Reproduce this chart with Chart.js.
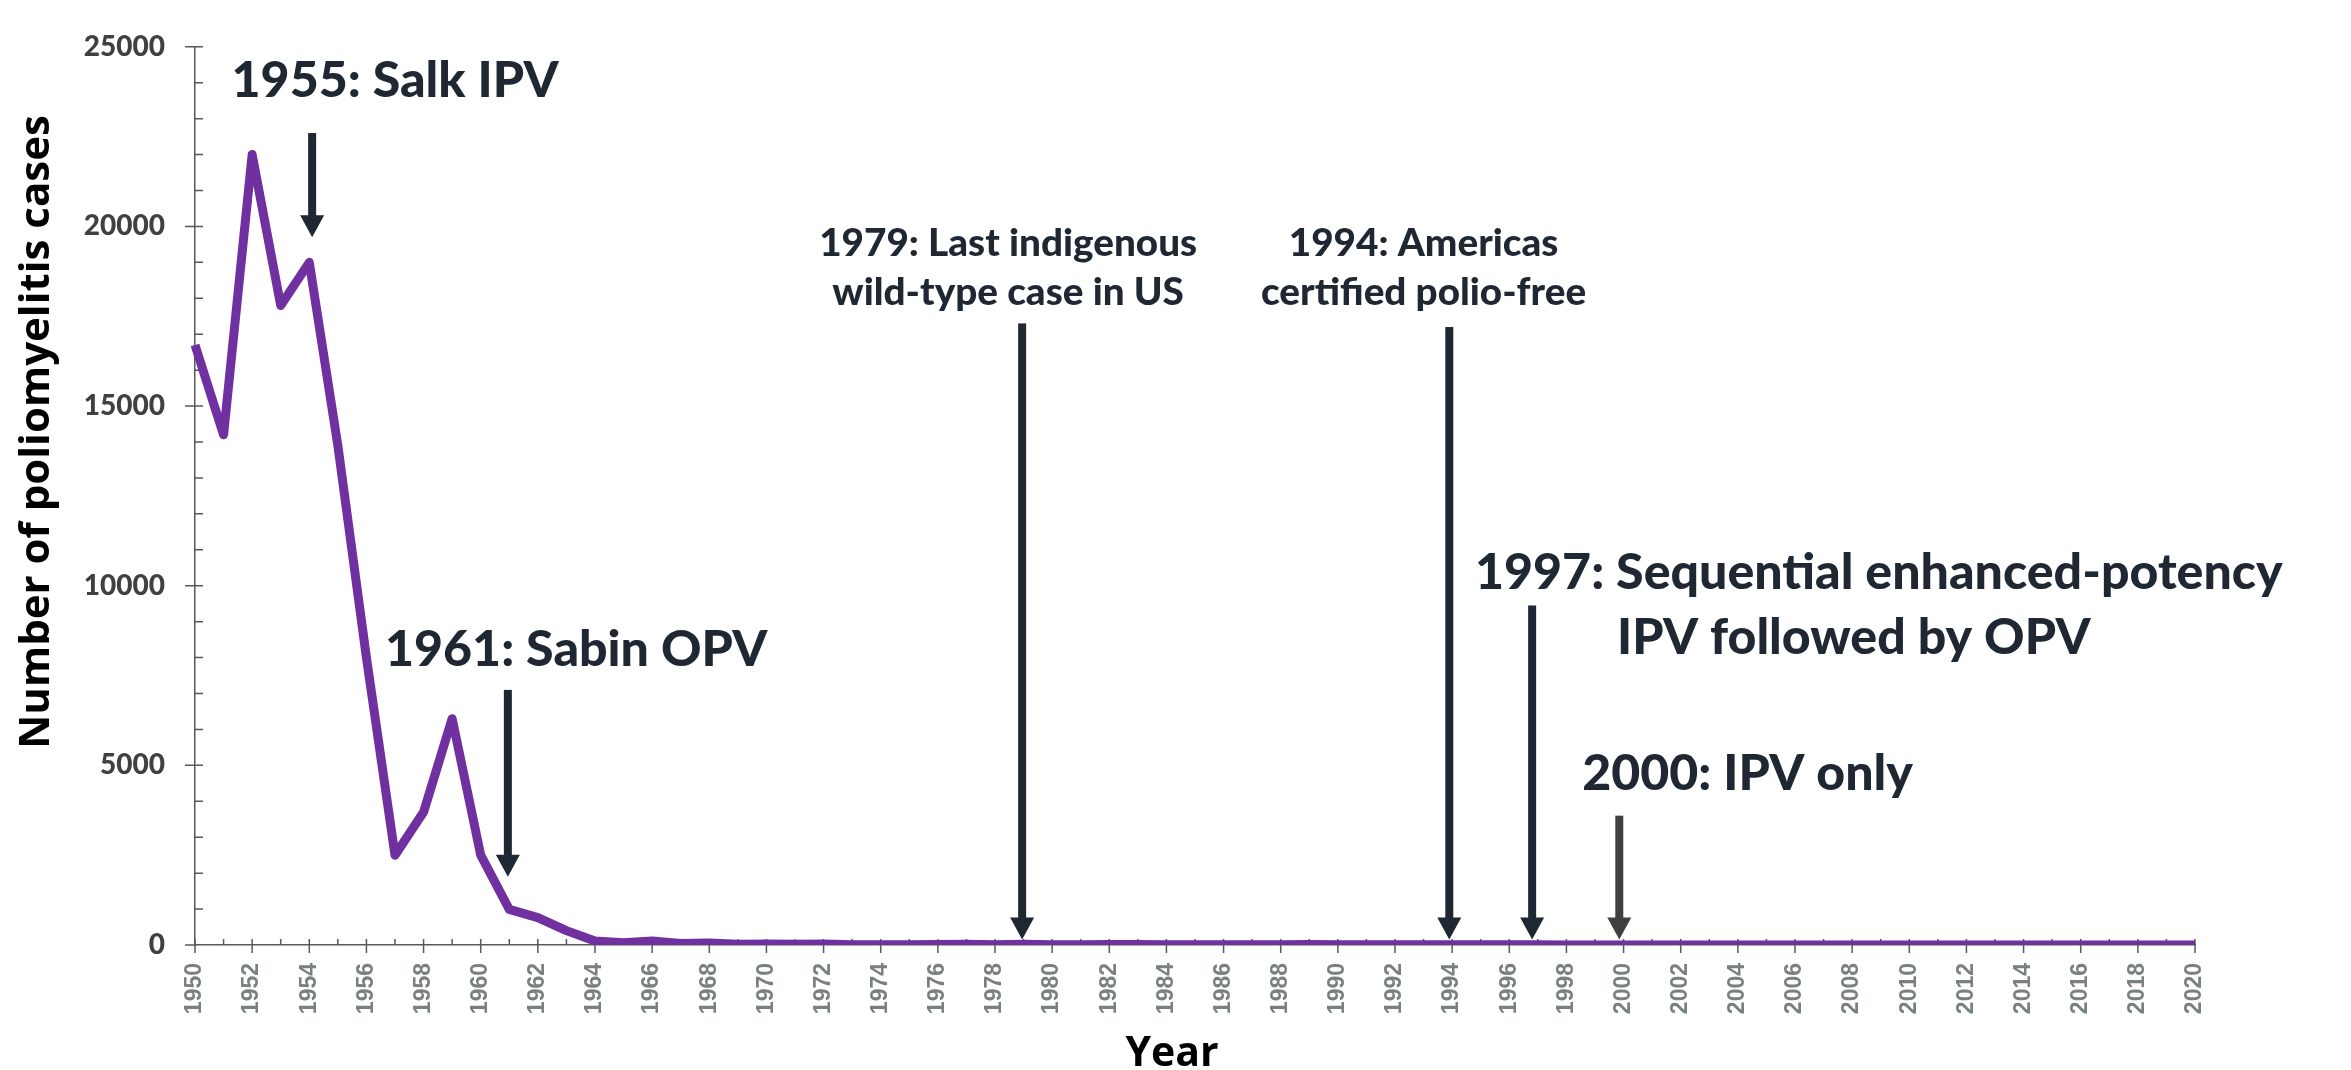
<!DOCTYPE html>
<html lang="en">
<head>
<meta charset="utf-8">
<title>Poliomyelitis cases in the US, 1950-2020</title>
<script src="https://cdn.jsdelivr.net/npm/chart.js@4.4.1/dist/chart.umd.min.js"></script>
<style>
	html, body { margin: 0; padding: 0; background: #fff; }
	#caixa { width: 2351px; height: 1070px; }
</style>
</head>
<body>
<div id="caixa"><canvas id="graficoPolio" width="2351" height="1070"></canvas></div>
<script>
// categorias (anos) e casos
var anos = [1950, 1951, 1952, 1953, 1954, 1955, 1956, 1957, 1958, 1959,
	1960, 1961, 1962, 1963, 1964, 1965, 1966, 1967, 1968, 1969,
	1970, 1971, 1972, 1973, 1974, 1975, 1976, 1977, 1978, 1979,
	1980, 1981, 1982, 1983, 1984, 1985, 1986, 1987, 1988, 1989,
	1990, 1991, 1992, 1993, 1994, 1995, 1996, 1997, 1998, 1999,
	2000, 2001, 2002, 2003, 2004, 2005, 2006, 2007, 2008, 2009,
	2010, 2011, 2012, 2013, 2014, 2015, 2016, 2017, 2018, 2019, 2020];

var casos = [16700, 14200, 22000, 17800, 19000, 13900, 8000, 2500, 3700, 6300,
	2500, 990, 760, 400, 110, 60, 110, 40, 55, 20,
	30, 20, 30, 8, 7, 8, 14, 18, 9, 22,
	9, 10, 12, 13, 9, 8, 10, 9, 9, 11,
	6, 10, 6, 4, 8, 7, 7, 6, 3, 2,
	1, 1, 1, 0, 0, 1, 0, 0, 0, 0,
	0, 0, 0, 0, 0, 0, 0, 0, 0, 0, 0];

var marcasY = [0, 5000, 10000, 15000, 20000, 25000];

var tituloX = 'Year';
var tituloY = 'Number of poliomyelitis cases';

// anotacoes: seta (ano, topo, ponta) e texto, em unidades dos eixos
var anotacoes = [
	{ seta: 1954.1, topo: 22600, ponta: 19700, corSeta: '#1f2832', tam: 'grande', alinhar: 'left',
		linhas: [{ texto: '1955: Salk IPV', ano: 1951.28, valor: 23595 }] },
	{ seta: 1960.95, topo: 7100, ponta: 1900, corSeta: '#1f2832', tam: 'grande', alinhar: 'left',
		linhas: [{ texto: '1961: Sabin OPV', ano: 1956.65, valor: 7772 }] },
	{ seta: 1978.95, topo: 17300, ponta: 150, corSeta: '#1f2832', tam: 'medio', alinhar: 'center',
		linhas: [{ texto: '1979: Last indigenous', ano: 1978.46, valor: 19177 },
			{ texto: 'wild-type case in US', ano: 1978.46, valor: 17800 }] },
	{ seta: 1993.9, topo: 17200, ponta: 150, corSeta: '#1f2832', tam: 'medio', alinhar: 'center',
		linhas: [{ texto: '1994: Americas', ano: 1993.0, valor: 19177 },
			{ texto: 'certified polio-free', ano: 1993.0, valor: 17800 }] },
	{ seta: 1996.8, topo: 9450, ponta: 150, corSeta: '#1f2832', tam: 'grande', alinhar: 'left',
		linhas: [{ texto: '1997: Sequential enhanced-potency', ano: 1994.8, valor: 9918 },
			{ texto: 'IPV followed by OPV', ano: 1999.77, valor: 8106 }] },
	{ seta: 1999.85, topo: 3600, ponta: 150, corSeta: '#404040', tam: 'grande', alinhar: 'left',
		linhas: [{ texto: '2000: IPV only', ano: 1998.55, valor: 4302 }] }
];

var Polio = Polio || {};

Polio.Grafico = (function(){

	var FONTES = {
		grande: { fonte: '900 49px Lato', ref: '1955: Salk IPV', largura: 327 },
		medio: { fonte: '900 38px Lato', ref: '1979: Last indigenous', largura: 378 }
	};

	function Grafico(){
		this.ctx = document.getElementById('graficoPolio').getContext('2d');
	}

	Grafico.prototype.iniciar = function(){
		new Chart(this.ctx, {
			type: 'line',
			data: {
				labels: anos,
				datasets: [{
					label: 'Poliomyelitis cases',
					data: casos,
					borderColor: '#7030a0',
					borderWidth: 9,
					borderJoinStyle: 'round',
					pointRadius: 0,
					tension: 0,
					fill: false
				}]
			},
			options: {
				responsive: false,
				animation: false,
				layout: { padding: { left: 0, top: 25, right: 156, bottom: 0 } },
				plugins: { legend: { display: false }, tooltip: { enabled: false } },
				scales: {
					x: {
						type: 'category',
						offset: false,
						grid: { display: false, drawTicks: false },
						border: { display: true, color: '#595959', width: 1.5 },
						afterFit: function(escala){ escala.height = 125; },
						ticks: {
							autoSkip: false,
							minRotation: 90,
							maxRotation: 90,
							padding: 18,
							color: '#78827b',
							font: { family: '"Liberation Sans", Arial, sans-serif', size: 23, weight: 'bold' },
							callback: function(valor, indice){
								return anos[indice] % 2 === 0 ? String(anos[indice]) : '';
							}
						}
					},
					y: {
						min: 0,
						max: 25000,
						grid: { display: false, drawTicks: false },
						border: { display: true, color: '#595959', width: 1.5 },
						afterFit: function(escala){ escala.width = 195; },
						afterBuildTicks: function(escala){
							escala.ticks = marcasY.map(function(v){ return { value: v }; });
						},
						ticks: {
							padding: 30,
							color: '#404040',
							font: { family: 'Lato, sans-serif', size: 28, weight: '900' },
							callback: function(valor){ return String(valor); }
						}
					}
				}
			},
			plugins: [pluginMarcas, pluginAnotacoes]
		});
	};

	// tracos maiores e menores dos dois eixos
	var pluginMarcas = {
		id: 'marcas',
		beforeDatasetsDraw: function(chart){
			var ctx = chart.ctx;
			var x = chart.scales.x, y = chart.scales.y;
			var base = y.getPixelForValue(0);
			var esquerda = chart.chartArea.left;

			ctx.save();
			ctx.strokeStyle = '#595959';
			ctx.lineWidth = 1.5;
			ctx.beginPath();
			anos.forEach(function(ano, i){
				var px = x.getPixelForValue(i);
				ctx.moveTo(px, base - 6);
				ctx.lineTo(px, ano % 2 === 0 ? base + 8 : base);
			});
			for (var v = 1000; v <= 25000; v += 1000) {
				var py = y.getPixelForValue(v);
				ctx.moveTo(v % 5000 === 0 ? esquerda - 10 : esquerda, py);
				ctx.lineTo(esquerda + 8, py);
			}
			ctx.moveTo(esquerda - 10, base);
			ctx.lineTo(esquerda, base);
			ctx.stroke();
			ctx.restore();
		}
	};

	function desenharSeta(ctx, x, yTopo, yPonta, cor){
		var cabeca = 22, meiaCabeca = 12, meiaHaste = 4;
		ctx.fillStyle = cor;
		ctx.fillRect(x - meiaHaste, yTopo, meiaHaste * 2, yPonta - cabeca - yTopo + 1);
		ctx.beginPath();
		ctx.moveTo(x - meiaCabeca, yPonta - cabeca);
		ctx.lineTo(x + meiaCabeca, yPonta - cabeca);
		ctx.lineTo(x, yPonta);
		ctx.closePath();
		ctx.fill();
	}

	function escrever(ctx, texto, x, y, alinhar, fator){
		var largura = ctx.measureText(texto).width * fator;
		var x0 = alinhar === 'center' ? x - largura / 2 : x;
		ctx.save();
		ctx.translate(x0, y);
		ctx.scale(fator, 1);
		ctx.textAlign = 'left';
		ctx.textBaseline = 'alphabetic';
		ctx.fillText(texto, 0, 0);
		ctx.restore();
	}

	var pluginAnotacoes = {
		id: 'anotacoes',
		afterDatasetsDraw: function(chart){
			var ctx = chart.ctx;
			var x = chart.scales.x, y = chart.scales.y;
			var inicio = anos[0];

			ctx.save();
			var fatores = {};
			Object.keys(FONTES).forEach(function(chave){
				ctx.font = FONTES[chave].fonte;
				fatores[chave] = FONTES[chave].largura / ctx.measureText(FONTES[chave].ref).width;
			});

			anotacoes.forEach(function(a){
				desenharSeta(ctx, x.getPixelForValue(a.seta - inicio),
					y.getPixelForValue(a.topo), y.getPixelForValue(a.ponta), a.corSeta);
				ctx.font = FONTES[a.tam].fonte;
				ctx.fillStyle = '#1f2832';
				a.linhas.forEach(function(l){
					escrever(ctx, l.texto, x.getPixelForValue(l.ano - inicio),
						y.getPixelForValue(l.valor), a.alinhar, fatores[a.tam]);
				});
			});

			// titulos dos eixos
			ctx.fillStyle = '#000';
			ctx.font = 'bold 41px "Open Sans", sans-serif';
			ctx.textAlign = 'center';
			ctx.textBaseline = 'alphabetic';
			ctx.fillText(tituloX, 1172, 1066);

			ctx.font = 'bold 42px "Open Sans", sans-serif';
			ctx.translate(49, 432);
			ctx.rotate(-Math.PI / 2);
			ctx.fillText(tituloY, 0, 0);
			ctx.restore();
		}
	};

	return Grafico;

}());

(function(){
	var grafico = new Polio.Grafico();
	grafico.iniciar();
})();
</script>
</body>
</html>
